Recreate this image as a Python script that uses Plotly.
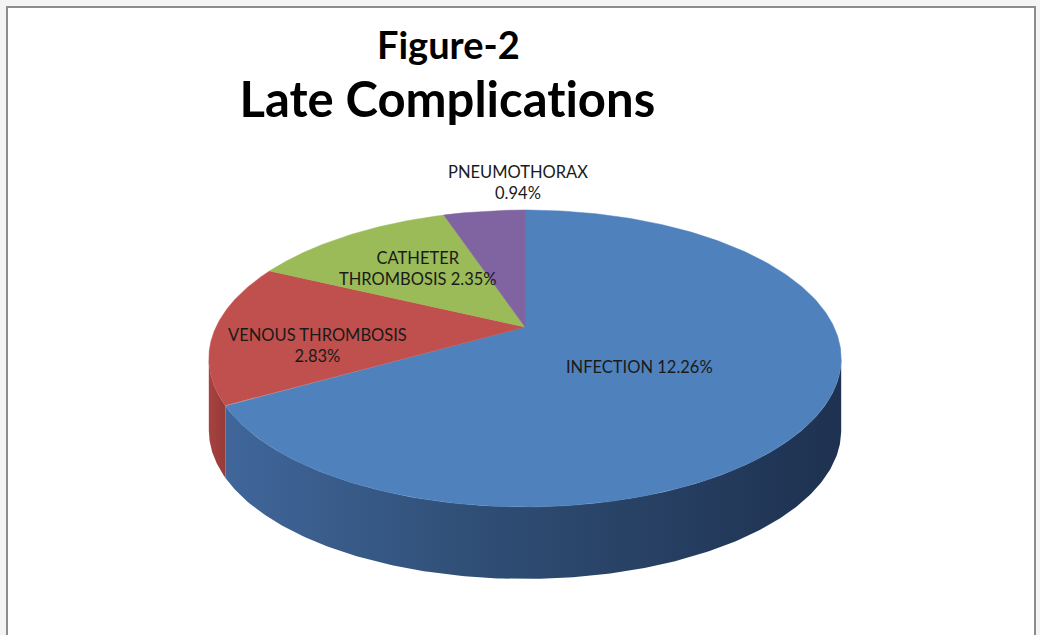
import numpy as np
import plotly.graph_objects as go

# ---- data ----
categories = ["INFECTION", "VENOUS THROMBOSIS", "CATHETER THROMBOSIS", "PNEUMOTHORAX"]
values = [12.26, 2.83, 2.35, 0.94]
title_line1 = "Figure-2"
title_line2 = "Late Complications"

# ---- style ----
top_colors = ["#4f81bd", "#c0504d", "#9bbb59", "#8064a2"]
side_scales = [
    [[0, "#40669a"], [0.45, "#2e4c72"], [1, "#1e3150"]],
    [[0, "#a7423f"], [1, "#963b38"]],
    [[0, "#7f9a48"], [1, "#6d853d"]],
    [[0, "#69528a"], [1, "#5a4676"]],
]
W, H = 1040, 635
CX, CY = 525, 327          # apex of pie (pixels)
RX, RY = 309, 141.8        # radii before perspective
K = 0.212                  # perspective factor
THICK = 72                 # pie thickness in pixels
FONT = "Lato, 'Open Sans', sans-serif"


def proj(theta_deg):
    t = np.radians(theta_deg)
    u, v = np.sin(t), np.cos(t)
    w = 1 + K * v
    return CX + RX * u / w, CY - RY * v / w


total = sum(values)
bounds = np.concatenate([[0], np.cumsum(values) / total * 360])

fig = go.Figure()

# side faces (front half only)
front_lo = np.degrees(np.arccos(-K))
front_hi = 360 - front_lo
for i in range(len(values)):
    a0, a1 = max(bounds[i], front_lo), min(bounds[i + 1], front_hi)
    if a1 <= a0:
        continue
    th = np.linspace(a0, a1, 200)
    xt, yt = proj(th)
    xs = np.concatenate([xt, xt[::-1], xt[:1]])
    ys = np.concatenate([yt, yt[::-1] + THICK, yt[:1]])
    fig.add_trace(go.Scatter(
        x=xs, y=ys, mode="lines", line=dict(width=0),
        fill="toself",
        fillgradient=dict(type="horizontal", colorscale=side_scales[i]),
        hoverinfo="skip", showlegend=False))

# top faces
for i in range(len(values)):
    th = np.linspace(bounds[i], bounds[i + 1], 300)
    xt, yt = proj(th)
    xs = np.concatenate([[CX], xt, [CX]])
    ys = np.concatenate([[CY], yt, [CY]])
    fig.add_trace(go.Scatter(
        x=xs, y=ys, mode="lines", line=dict(width=0.5, color=top_colors[i]),
        fill="toself", fillcolor=top_colors[i],
        name=categories[i], hoverinfo="name", showlegend=False))

# data labels
label_texts = [
    f"{categories[0]} {values[0]:.2f}%",
    f"{categories[1]}<br>{values[1]:.2f}%",
    "CATHETER<br>THROMBOSIS " + f"{values[2]:.2f}%",
    f"{categories[3]}<br>{values[3]:.2f}%",
]
label_pos = [(639, 367), (317, 345), (418, 268), (518, 182)]
for txt, (lx, ly) in zip(label_texts, label_pos):
    fig.add_annotation(x=lx, y=ly, text=txt, showarrow=False,
                       xref="x", yref="y", align="center",
                       font=dict(family=FONT, size=16.5, color="#1a1a1a"))

# titles
fig.add_annotation(x=448, y=44, text=f"<b>{title_line1}</b>", showarrow=False,
                   xref="x", yref="y", font=dict(family=FONT, size=38, color="#000"))
fig.add_annotation(x=447, y=98, text=f"<b>{title_line2}</b>", showarrow=False,
                   xref="x", yref="y", font=dict(family=FONT, size=49, color="#000"))

# chart frame
fig.add_shape(type="rect", x0=7, y0=7, x1=1035, y1=650, xref="x", yref="y",
              line=dict(color="#8c8c8c", width=2), fillcolor="white", layer="below")

fig.update_layout(
    width=W, height=H, autosize=False,
    margin=dict(l=0, r=0, t=0, b=0),
    paper_bgcolor="#f4f4f4", plot_bgcolor="rgba(0,0,0,0)",
    xaxis=dict(range=[0, W], visible=False, fixedrange=True),
    yaxis=dict(range=[H, 0], visible=False, fixedrange=True),
    showlegend=False,
)

post = (
    "document.body.style.margin='0';"
    "document.body.style.overflow='hidden';"
    "var s=document.createElement('style');"
    "s.textContent='text{font-variant-ligatures:none !important;font-feature-settings:\"liga\" 0 !important;}';"
    "document.head.appendChild(s);"
)
fig.write_html("out.html", config={"displayModeBar": False}, post_script=post)
